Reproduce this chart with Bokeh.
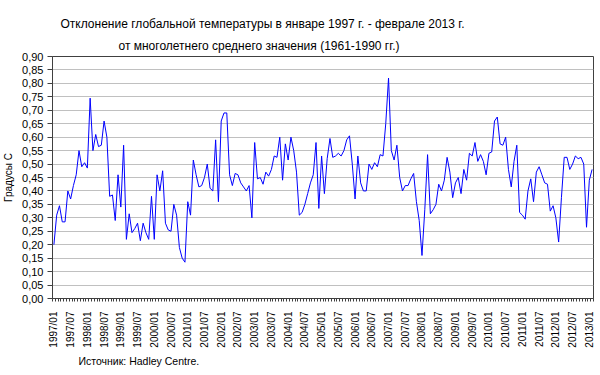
import math
from bokeh.plotting import figure
from bokeh.models import Range1d, FixedTicker, Title, CustomJSTickFormatter
from bokeh.embed import file_html
from bokeh.resources import INLINE

# Monthly global temperature anomaly (deg C), Jan 1997 - Feb 2013
y1997 = [0.20, 0.31, 0.345, 0.285, 0.285, 0.40, 0.37, 0.42, 0.46, 0.55, 0.49, 0.505]
y1998 = [0.485, 0.745, 0.55, 0.61, 0.565, 0.57, 0.66, 0.60, 0.38, 0.385, 0.29, 0.46]
y1999 = [0.34, 0.57, 0.22, 0.315, 0.245, 0.26, 0.28, 0.215, 0.28, 0.245, 0.22, 0.38]
y2000 = [0.22, 0.46, 0.40, 0.475, 0.28, 0.255, 0.25, 0.35, 0.31, 0.19, 0.15, 0.135]
y2001 = [0.36, 0.31, 0.515, 0.46, 0.415, 0.42, 0.45, 0.50, 0.41, 0.40, 0.59, 0.36]
y2002 = [0.66, 0.69, 0.69, 0.46, 0.42, 0.465, 0.46, 0.43, 0.415, 0.40, 0.42, 0.30]
y2003 = [0.58, 0.445, 0.45, 0.425, 0.47, 0.455, 0.48, 0.53, 0.525, 0.60, 0.44, 0.575]
y2004 = [0.515, 0.60, 0.55, 0.47, 0.31, 0.32, 0.35, 0.39, 0.43, 0.46, 0.58, 0.335]
y2005 = [0.53, 0.39, 0.52, 0.595, 0.525, 0.53, 0.54, 0.53, 0.55, 0.59, 0.605, 0.50]
y2006 = [0.37, 0.53, 0.43, 0.40, 0.40, 0.50, 0.48, 0.505, 0.49, 0.535, 0.53, 0.65]
y2007 = [0.82, 0.55, 0.515, 0.57, 0.45, 0.40, 0.42, 0.42, 0.445, 0.465, 0.36, 0.29]
y2008 = [0.16, 0.33, 0.535, 0.315, 0.33, 0.35, 0.425, 0.40, 0.44, 0.525, 0.47, 0.375]
y2009 = [0.43, 0.45, 0.39, 0.48, 0.44, 0.54, 0.53, 0.58, 0.51, 0.535, 0.51, 0.46]
y2010 = [0.54, 0.545, 0.66, 0.675, 0.575, 0.57, 0.60, 0.48, 0.415, 0.51, 0.57, 0.32]
y2011 = [0.31, 0.295, 0.40, 0.445, 0.36, 0.47, 0.49, 0.46, 0.43, 0.425, 0.325, 0.345]
y2012 = [0.30, 0.21, 0.375, 0.525, 0.525, 0.48, 0.50, 0.53, 0.52, 0.525, 0.50, 0.265]
y2013 = [0.44, 0.48]

x_tick_labels = [
    "1997/01", "1997/07", "1998/01", "1998/07", "1999/01", "1999/07",
    "2000/01", "2000/07", "2001/01", "2001/07", "2002/01", "2002/07",
    "2003/01", "2003/07", "2004/01", "2004/07", "2005/01", "2005/07",
    "2006/01", "2006/07", "2007/01", "2007/07", "2008/01", "2008/07",
    "2009/01", "2009/07", "2010/01", "2010/07", "2011/01", "2011/07",
    "2012/01", "2012/07", "2013/01",
]
y_tick_values = [0.00, 0.05, 0.10, 0.15, 0.20, 0.25, 0.30, 0.35, 0.40, 0.45,
                 0.50, 0.55, 0.60, 0.65, 0.70, 0.75, 0.80, 0.85, 0.90]

title_line1 = "Отклонение глобальной температуры в январе 1997 г. - феврале 2013 г."
title_line2 = "от многолетнего среднего значения (1961-1990 гг.)"
y_title = "Градусы С"
source_text = "Источник: Hadley Centre."

values = (y1997 + y1998 + y1999 + y2000 + y2001 + y2002 + y2003 + y2004 +
          y2005 + y2006 + y2007 + y2008 + y2009 + y2010 + y2011 + y2012 + y2013)
months = list(range(len(values)))

FONT = "Liberation Sans"

p = figure(width=596, height=370, output_backend="svg", toolbar_location=None,
           x_range=Range1d(-0.5, len(values) - 0.5), y_range=Range1d(0, 0.9),
           min_border_left=52, min_border_right=3, min_border_top=56,
           min_border_bottom=72)
p.background_fill_color = "white"
p.border_fill_color = "white"
p.outline_line_color = "#404040"
p.outline_line_width = 1

p.line(months, values, line_color="#0000ff", line_width=1)

# y axis
p.yaxis.ticker = FixedTicker(ticks=y_tick_values)
p.yaxis.formatter = CustomJSTickFormatter(code="return tick.toFixed(2).replace('.', ',');")
p.yaxis.major_tick_out = 5
p.yaxis.major_tick_in = 0
p.yaxis.minor_tick_out = 0
p.yaxis.minor_tick_in = 0
p.yaxis.major_label_standoff = 4
p.yaxis.major_label_text_font = FONT
p.yaxis.major_label_text_font_size = "11px"
p.yaxis.major_label_text_color = "black"
p.yaxis.axis_line_color = "#404040"
p.yaxis.major_tick_line_color = "#404040"
p.yaxis.axis_label = y_title
p.yaxis.axis_label_standoff = 5
p.yaxis.axis_label_text_font = FONT
p.yaxis.axis_label_text_font_size = "10px"
p.yaxis.axis_label_text_font_style = "normal"
p.yaxis.axis_label_text_color = "black"

p.ygrid.ticker = FixedTicker(ticks=y_tick_values)
p.ygrid.grid_line_color = "#c0c0c0"
p.ygrid.grid_line_width = 1
p.xgrid.visible = False

# x axis
x_ticks = [6 * k for k in range(len(x_tick_labels))]
p.xaxis.ticker = FixedTicker(ticks=x_ticks,
                             minor_ticks=[m - 0.5 for m in range(len(values) + 1)])
p.xaxis.major_label_overrides = {t: lab for t, lab in zip(x_ticks, x_tick_labels)}
p.xaxis.major_label_orientation = math.pi / 2
p.xaxis.major_tick_out = 0
p.xaxis.major_tick_in = 0
p.xaxis.minor_tick_out = 3
p.xaxis.minor_tick_in = 0
p.xaxis.major_label_standoff = 10
p.xaxis.major_label_text_font = FONT
p.xaxis.major_label_text_font_size = "10px"
p.xaxis.major_label_text_color = "black"
p.xaxis.axis_line_color = "#404040"
p.xaxis.minor_tick_line_color = "#404040"

# titles (first added "above" is closest to the plot)
p.add_layout(Title(text=title_line2, align="left", offset=66, standoff=7,
                   text_font=FONT, text_font_size="12px",
                   text_font_style="normal", text_color="black"), "above")
p.add_layout(Title(text=title_line1, align="left", offset=8, standoff=6,
                   text_font=FONT, text_font_size="12px",
                   text_font_style="normal", text_color="black"), "above")
# source note below the x axis
p.add_layout(Title(text=source_text, align="left", offset=26, standoff=4,
                   text_font=FONT, text_font_size="10.5px",
                   text_font_style="normal", text_color="black"), "below")

open("out.html", "w").write(file_html(p, INLINE))
